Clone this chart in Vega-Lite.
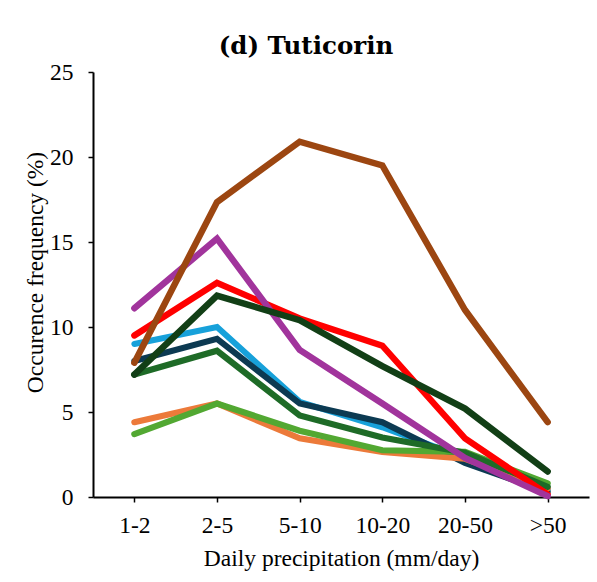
{
  "$schema": "https://vega.github.io/schema/vega-lite/v6.json",
  "autosize": "none",
  "width": 496,
  "height": 425,
  "padding": {"left": 93, "top": 72, "right": 8, "bottom": 85},
  "background": "white",
  "config": {
    "view": {"stroke": null},
    "font": "Liberation Serif"
  },
  "title": {
    "text": "(d) Tuticorin",
    "font": "DejaVu Serif",
    "fontSize": 24.5,
    "fontWeight": "bold",
    "color": "black",
    "anchor": "middle",
    "dx": -35,
    "offset": 1
  },
  "data": {
    "values": [
      {"series": "A", "bin": "1-2", "value": 9.0},
      {"series": "A", "bin": "2-5", "value": 10.0},
      {"series": "A", "bin": "5-10", "value": 5.6},
      {"series": "A", "bin": "10-20", "value": 4.1},
      {"series": "A", "bin": "20-50", "value": 2.3},
      {"series": "A", "bin": ">50", "value": 0.45},
      {"series": "B", "bin": "1-2", "value": 8.0},
      {"series": "B", "bin": "2-5", "value": 9.3},
      {"series": "B", "bin": "5-10", "value": 5.5},
      {"series": "B", "bin": "10-20", "value": 4.4},
      {"series": "B", "bin": "20-50", "value": 2.0},
      {"series": "B", "bin": ">50", "value": 0.3},
      {"series": "C", "bin": "1-2", "value": 4.4},
      {"series": "C", "bin": "2-5", "value": 5.5},
      {"series": "C", "bin": "5-10", "value": 3.45},
      {"series": "C", "bin": "10-20", "value": 2.65},
      {"series": "C", "bin": "20-50", "value": 2.25},
      {"series": "C", "bin": ">50", "value": 0.5},
      {"series": "D", "bin": "1-2", "value": 3.7},
      {"series": "D", "bin": "2-5", "value": 5.5},
      {"series": "D", "bin": "5-10", "value": 3.9},
      {"series": "D", "bin": "10-20", "value": 2.75},
      {"series": "D", "bin": "20-50", "value": 2.65},
      {"series": "D", "bin": ">50", "value": 0.8},
      {"series": "E", "bin": "1-2", "value": 7.2},
      {"series": "E", "bin": "2-5", "value": 8.6},
      {"series": "E", "bin": "5-10", "value": 4.8},
      {"series": "E", "bin": "10-20", "value": 3.5},
      {"series": "E", "bin": "20-50", "value": 2.6},
      {"series": "E", "bin": ">50", "value": 0.6},
      {"series": "F", "bin": "1-2", "value": 9.5},
      {"series": "F", "bin": "2-5", "value": 12.6},
      {"series": "F", "bin": "5-10", "value": 10.5},
      {"series": "F", "bin": "10-20", "value": 8.9},
      {"series": "F", "bin": "20-50", "value": 3.45},
      {"series": "F", "bin": ">50", "value": 0.15},
      {"series": "G", "bin": "1-2", "value": 11.1},
      {"series": "G", "bin": "2-5", "value": 15.2},
      {"series": "G", "bin": "5-10", "value": 8.65},
      {"series": "G", "bin": "10-20", "value": 5.5},
      {"series": "G", "bin": "20-50", "value": 2.3},
      {"series": "G", "bin": ">50", "value": 0.05},
      {"series": "H", "bin": "1-2", "value": 7.9},
      {"series": "H", "bin": "2-5", "value": 17.35},
      {"series": "H", "bin": "5-10", "value": 20.9},
      {"series": "H", "bin": "10-20", "value": 19.5},
      {"series": "H", "bin": "20-50", "value": 11.0},
      {"series": "H", "bin": ">50", "value": 4.4},
      {"series": "I", "bin": "1-2", "value": 7.2},
      {"series": "I", "bin": "2-5", "value": 11.85},
      {"series": "I", "bin": "5-10", "value": 10.4},
      {"series": "I", "bin": "10-20", "value": 7.7},
      {"series": "I", "bin": "20-50", "value": 5.2},
      {"series": "I", "bin": ">50", "value": 1.5}
    ]
  },
  "mark": {"type": "line", "strokeCap": "round", "strokeJoin": "miter"},
  "encoding": {
    "x": {
      "field": "bin",
      "type": "ordinal",
      "sort": ["1-2", "2-5", "5-10", "10-20", "20-50", ">50"],
      "scale": {"type": "point", "padding": 0.5},
      "axis": {
        "title": "Daily precipitation (mm/day)",
        "titleFont": "Liberation Serif",
        "titleFontSize": 23.5,
        "titleFontWeight": "normal",
        "titleColor": "black",
        "titlePadding": 10,
        "labelFont": "Liberation Serif",
        "labelFontSize": 23.5,
        "labelColor": "black",
        "labelAngle": 0,
        "labelPadding": 11,
        "tickSize": 5,
        "tickColor": "black",
        "tickWidth": 1.5,
        "domainColor": "black",
        "domainWidth": 2,
        "grid": false
      }
    },
    "y": {
      "field": "value",
      "type": "quantitative",
      "scale": {"domain": [0, 25]},
      "axis": {
        "title": "Occurence frequency (%)",
        "titleFont": "Liberation Serif",
        "titleFontSize": 23.5,
        "titleFontWeight": "normal",
        "titleColor": "black",
        "titlePadding": 2,
        "titleY": 200,
        "labelFont": "Liberation Serif",
        "labelFontSize": 23.5,
        "labelColor": "black",
        "labelPadding": 15,
        "values": [0, 5, 10, 15, 20, 25],
        "tickSize": 5,
        "tickColor": "black",
        "tickWidth": 1.5,
        "domainColor": "black",
        "domainWidth": 2,
        "grid": false
      }
    },
    "color": {
      "field": "series",
      "type": "nominal",
      "scale": {
        "domain": ["A", "B", "C", "D", "E", "F", "G", "H", "I"],
        "range": ["#17A1DA", "#0C3A52", "#EC7A3A", "#52A832", "#1E6B27", "#FF0000", "#A1349C", "#9C4611", "#123F16"]
      },
      "legend": null
    },
    "strokeWidth": {
      "field": "series",
      "type": "nominal",
      "scale": {
        "domain": ["A", "B", "C", "D", "E", "F", "G", "H", "I"],
        "range": [6, 6.5, 6, 6, 6, 9, 5.5, 5, 6]
      },
      "legend": null
    }
  }
}
